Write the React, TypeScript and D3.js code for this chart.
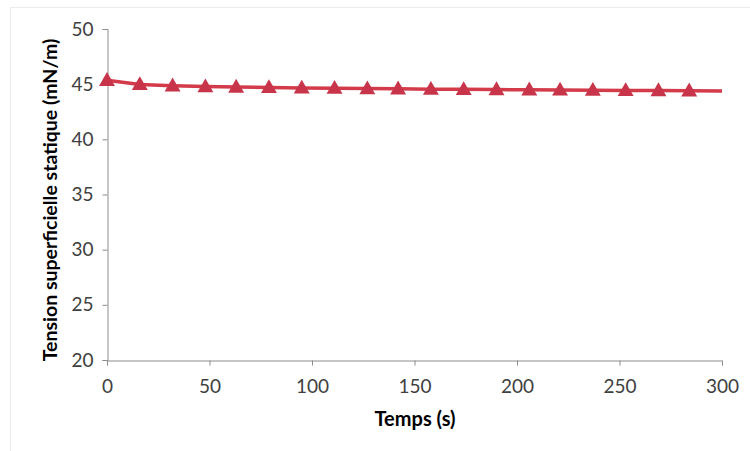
import React, { useEffect, useRef } from "react"
import * as d3 from "d3"

// temps (s) et tension superficielle statique (mN/m)
const times = [0, 16, 32, 48, 63, 79, 95, 111, 127, 142, 158, 174, 190, 206, 221, 237, 253, 269, 284]
const tension = [45.35, 44.98, 44.85, 44.78, 44.74, 44.7, 44.66, 44.63, 44.6, 44.58, 44.55, 44.53, 44.51, 44.49, 44.47, 44.45, 44.43, 44.42, 44.4]
// la courbe continue jusqu'a 300 s sans marqueur
const lineEnd = { t: 300, v: 44.37 }

const xTicks = [0, 50, 100, 150, 200, 250, 300]
const yTicks = [20, 25, 30, 35, 40, 45, 50]

const W = 750
const H = 451
const left = 107
const right = 722
const top = 29
const bottom = 360

const LINE = "#d43b4a"
const MARK = "#c8354a"
const AXIS = "#8c8c8c"
const FONT = "Lato, 'Open Sans', sans-serif"

export default function App() {
  const ref = useRef<SVGSVGElement>(null)

  useEffect(() => {
    const svg = d3.select(ref.current)
    svg.selectAll("*").remove()

    const x = d3.scaleLinear().domain([0, 300]).range([left, right])
    const y = d3.scaleLinear().domain([20, 50]).range([bottom, top])

    // cadre tres pale
    svg
      .append("rect")
      .attr("x", 10.5)
      .attr("y", 7.5)
      .attr("width", 760)
      .attr("height", 470)
      .attr("fill", "none")
      .attr("stroke", "#ececec")

    // axe Y
    const yAxis = svg
      .append("g")
      .attr("transform", `translate(${left + 0.5},0)`)
      .call(d3.axisLeft(y).tickValues(yTicks).tickSize(5).tickPadding(9))
    yAxis.select(".domain").attr("stroke", AXIS)
    yAxis.selectAll(".tick line").attr("stroke", AXIS)
    yAxis
      .selectAll(".tick text")
      .attr("font-family", FONT)
      .attr("font-size", 19)
      .attr("fill", "#404040")

    // axe X
    const xAxis = svg
      .append("g")
      .attr("transform", `translate(0,${bottom + 0.5})`)
      .call(d3.axisBottom(x).tickValues(xTicks).tickSize(5).tickPadding(14))
    xAxis.select(".domain").attr("stroke", AXIS)
    xAxis.selectAll(".tick line").attr("stroke", AXIS)
    xAxis
      .selectAll(".tick text")
      .attr("font-family", FONT)
      .attr("font-size", 19)
      .attr("fill", "#404040")

    // courbe
    const pts: [number, number][] = times.map((t, i) => [t, tension[i]])
    pts.push([lineEnd.t, lineEnd.v])
    const line = d3
      .line<[number, number]>()
      .x((d) => x(d[0]))
      .y((d) => y(d[1]))
    svg
      .append("path")
      .attr("d", line(pts))
      .attr("fill", "none")
      .attr("stroke", LINE)
      .attr("stroke-width", 3.5)

    const tri = d3.symbol().type(d3.symbolTriangle).size(110)
    svg
      .append("g")
      .selectAll("path")
      .data(times)
      .join("path")
      .attr("d", tri)
      .attr("transform", (d, i) => `translate(${x(d)},${y(tension[i]) + 1})`)
      .attr("fill", MARK)

    // titres
    svg
      .append("text")
      .attr("x", 415)
      .attr("y", 426)
      .attr("text-anchor", "middle")
      .attr("font-family", FONT)
      .attr("font-weight", "bold")
      .attr("font-size", 20)
      .attr("fill", "#000")
      .text("Temps (s)")

    svg
      .append("text")
      .attr("transform", `translate(57,200) rotate(-90)`)
      .attr("text-anchor", "middle")
      .attr("font-family", FONT)
      .attr("font-weight", "bold")
      .attr("font-size", 19.5)
      .attr("fill", "#000")
      .text("Tension superficielle statique (mN/m)")
  }, [])

  return (
    <div style={{ position: "absolute", left: 0, top: 0 }}>
      <svg ref={ref} width={W} height={H} style={{ display: "block", background: "#fff" }} />
    </div>
  )
}
